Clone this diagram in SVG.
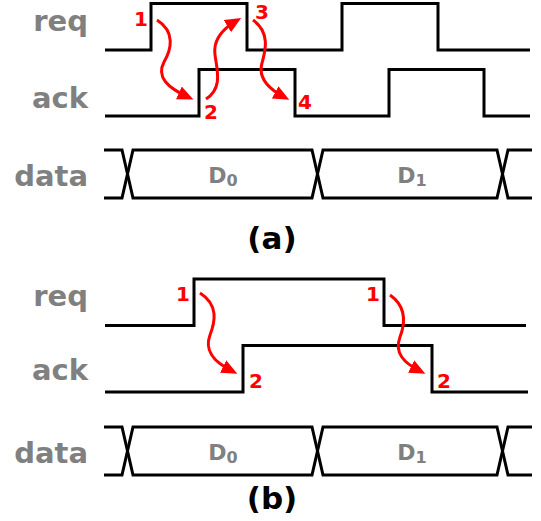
<svg xmlns="http://www.w3.org/2000/svg" width="541" height="521" viewBox="0 0 541 521">
<style>
.sig{fill:none;stroke:#000;stroke-width:3;stroke-linejoin:miter}
.lbl{font-family:"DejaVu Sans",Verdana,sans-serif;font-weight:bold;font-size:29px;fill:#808080;text-anchor:end}
.dl{font-family:"DejaVu Sans",Verdana,sans-serif;font-weight:bold;font-size:22px;fill:#808080;text-anchor:middle}
.num{font-family:"DejaVu Sans",Verdana,sans-serif;font-weight:bold;font-size:20px;fill:#ff0000;text-anchor:middle}
.cap{font-family:"DejaVu Sans",Verdana,sans-serif;font-weight:bold;font-size:31px;fill:#000;text-anchor:middle}
.arr{fill:none;stroke:#ff0000;stroke-width:3;marker-end:url(#ah)}
</style>
<defs>
<marker id="ah" markerUnits="userSpaceOnUse" markerWidth="17" markerHeight="15" refX="10" refY="7" orient="auto">
<path d="M0,0 L16,7 L0,14 z" fill="#ff0000"/>
</marker>
</defs>
<g id="diagram-a">
<g id="a-req"><text class="lbl" x="88" y="31">req</text><path class="sig" d="M105,50 H151 V3.5 H247 V50 H342 V3.5 H438 V50 H530"/></g>
<g id="a-ack"><text class="lbl" x="88" y="108">ack</text><path class="sig" d="M105,116 H199 V69.5 H295 V116 H389 V69.5 H484 V116 H530"/></g>
<g id="a-data"><text class="lbl" x="88" y="186">data</text>
<path class="sig" d="M104,150 H122 L133,198 H312 L323,150 H497 L508,198 H532"/>
<path class="sig" d="M104,198 H122 L133,150 H312 L323,198 H497 L508,150 H532"/>
<text class="dl" x="223" y="183">D<tspan font-size="16" dy="3">0</tspan></text>
<text class="dl" x="412" y="183">D<tspan font-size="16" dy="3">1</tspan></text>
</g>
<text class="cap" x="272" y="249">(a)</text>
</g>
<g id="diagram-b">
<g id="b-req"><text class="lbl" x="88" y="306">req</text><path class="sig" d="M105,325.5 H194 V279 H384 V325.5 H526"/></g>
<g id="b-ack"><text class="lbl" x="88" y="380">ack</text><path class="sig" d="M105,392 H243 V345.5 H432 V392 H528"/></g>
<g id="b-data"><text class="lbl" x="88" y="463">data</text>
<path class="sig" d="M104,427 H122 L133,475 H312 L323,427 H497 L508,475 H532"/>
<path class="sig" d="M104,475 H122 L133,427 H312 L323,475 H497 L508,427 H532"/>
<text class="dl" x="223" y="460">D<tspan font-size="16" dy="3">0</tspan></text>
<text class="dl" x="412" y="460">D<tspan font-size="16" dy="3">1</tspan></text>
</g>
<text class="cap" x="272" y="509">(b)</text>
</g>
<g id="connectors">
<path class="arr" d="M157,20 C176,32 171,50 164,62 C156,77 168,88 188,97"/>
<path class="arr" d="M206,99 C223,88 217,70 215,55 C213,41 221,30 236,21"/>
<path class="arr" d="M253,20 C271,33 265,52 262,63 C258,77 267,88 284,97"/>
<path class="arr" d="M200,293 C219,305 215,322 210,335 C204,351 214,362 232,371"/>
<path class="arr" d="M390,295 C407,307 405,324 400,337 C394,353 404,363 420,371"/>
</g>
<g id="labels">
<text class="num" x="141" y="26">1</text>
<text class="num" x="211" y="119">2</text>
<text class="num" x="262" y="19" font-size="19">3</text>
<text class="num" x="305" y="109">4</text>
<text class="num" x="183" y="301">1</text>
<text class="num" x="256" y="388">2</text>
<text class="num" x="373" y="301">1</text>
<text class="num" x="444" y="388">2</text>
</g>
</svg>
